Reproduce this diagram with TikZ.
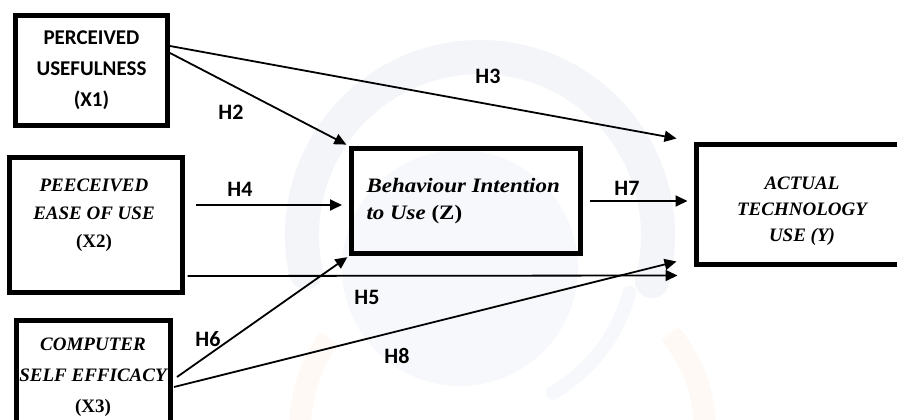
\documentclass[tikz,border=0pt]{standalone}
\usepackage{fontspec}
\usetikzlibrary{arrows.meta,calc}
\newfontfamily\lblfont[BoldFont={Carlito Bold}]{Carlito}
\newfontfamily\serfont[FakeStretch=1.12]{Liberation Serif}
\newfontfamily\serfontn{Liberation Serif}
\definecolor{wmblue}{HTML}{F3F5F9}
\definecolor{wmbluel}{HTML}{F6F8FB}
\definecolor{wmorange}{HTML}{FEF9F5}
\tikzset{
  box/.style={draw=black, line width=5pt, rectangle, inner sep=0pt},
  conn/.style={line width=1.8pt, -{Triangle[length=12pt,width=11pt]}},
  hlabel/.style={font=\lblfont\bfseries\fontsize{22}{26}\selectfont},
  sanstext/.style={font=\lblfont\bfseries\fontsize{21}{31}\selectfont, align=center},
  capstext/.style={font=\serfontn\bfseries\itshape\fontsize{19}{28}\selectfont, align=center}
}
\begin{document}
\begin{tikzpicture}[x=1pt,y=-1pt]
\useasboundingbox (0,0) rectangle (897,420);
% faint watermark
\begin{scope}
\clip (0,0) rectangle (897,420);
\draw[wmblue, line width=34pt, line cap=round] (480,235) ++(168:178) arc (168:375:178);
\draw[wmbluel, line width=14pt, line cap=round] (470,250) ++(60:165) arc (60:15:165);
\fill[wmbluel] (460,268) circle (118);
\draw[wmorange, line width=22pt] (300,430) arc (180:215:160);
\draw[wmorange, line width=22pt] (705,430) arc (0:-40:150);
\end{scope}
% boxes
\node[box, minimum width=152pt, minimum height=110pt, sanstext] (x1) at (91.5,70.5) {PERCEIVED\\USEFULNESS\\(X1)};
\node[box, minimum width=173pt, minimum height=135pt] (x2) at (96,225) {};
\node[capstext] (x2t) at (94,215) {PEECEIVED\\EASE OF USE\\\upshape(X2)};
\node[box, minimum width=154pt, minimum height=113pt] (x3) at (93.5,377) {};
\node[capstext, font=\serfontn\bfseries\itshape\fontsize{19}{31}\selectfont] (x3t) at (93,377) {COMPUTER\\SELF EFFICACY\\\upshape(X3)};
\node[box, minimum width=229pt, minimum height=105pt] (z) at (466,201) {};
\node[align=left, anchor=west, font=\serfont\bfseries\itshape\fontsize{20.5}{27}\selectfont] (zt) at (363,201) {Behaviour Intention\\to Use {\upshape(Z)}};
\node[box, minimum width=211pt, minimum height=120pt] (y) at (802,204.5) {};
\node[capstext, font=\serfontn\bfseries\itshape\fontsize{19}{26}\selectfont] (yt) at (802,211) {ACTUAL\\TECHNOLOGY\\USE (Y)};
% connectors
\draw[conn] ([yshift=24.5]x1.east) -- ([xshift=-17.5,yshift=3.5]y.north west);
\draw[conn, shorten >=3pt] ([yshift=17.5]x1.east) -- (z.north west);
\draw[conn] ([xshift=10.5,yshift=20]x2.east) -- ([xshift=-7,yshift=-4]z.west);
\draw[conn] ([xshift=6.5]z.east) -- ([xshift=-6.5,yshift=3.5]y.west);
\draw[conn] ([xshift=2.5,yshift=-51]x2.east) -- ([xshift=-16.5,yshift=-8.5]y.south west);
\draw[conn, shorten >=2pt] ([xshift=4]x3.east) -- (z.south west);
\draw[conn] ([xshift=1,yshift=-10]x3.east) -- ([xshift=-17.5,yshift=5.5]y.south west);
% labels
\node[hlabel] (h2) at (231,112) {H2};
\node[hlabel] (h3) at (488,76) {H3};
\node[hlabel] (h4) at (240,189) {H4};
\node[hlabel] (h7) at (627,188) {H7};
\node[hlabel] (h5) at (367,297) {H5};
\node[hlabel] (h8) at (397,356) {H8};
\node[hlabel] (h6) at (208,339) {H6};
\end{tikzpicture}
\end{document}
